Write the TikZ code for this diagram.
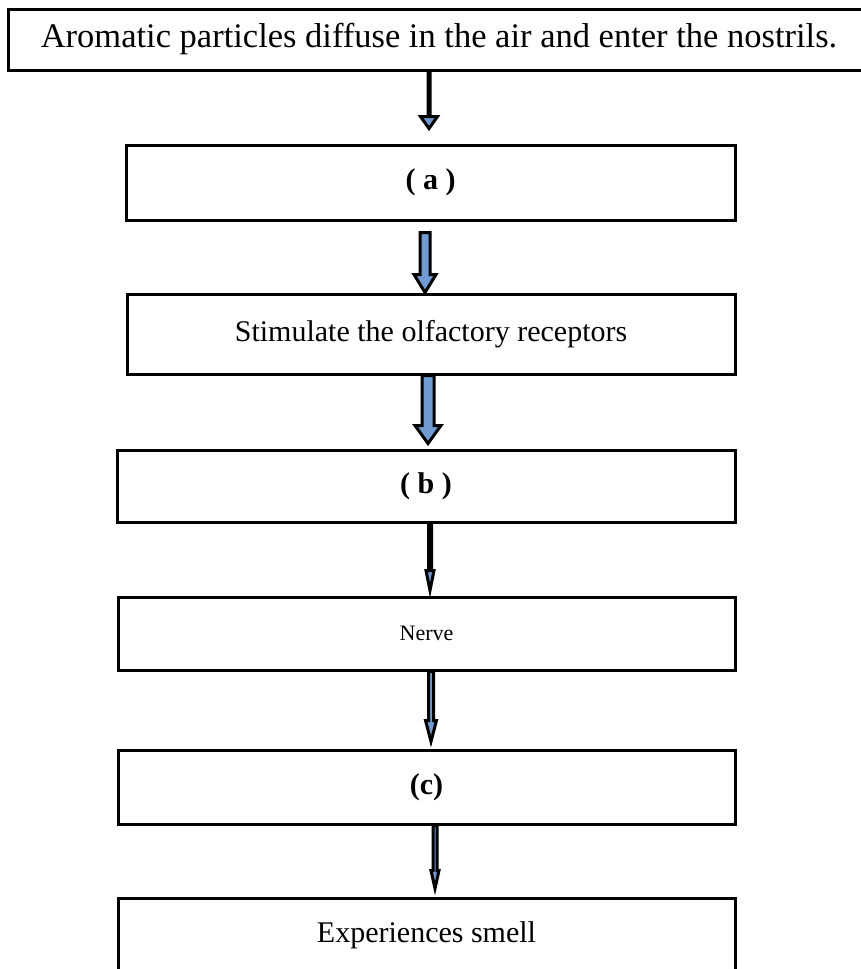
\documentclass[tikz,border=0pt]{standalone}
\usepackage{fontspec}
\setmainfont{Liberation Serif}
\usetikzlibrary{calc}

\definecolor{arrowblue}{RGB}{112,155,210}

\tikzset{
  box/.style={draw, rectangle, line width=3pt, inner sep=0pt, font=\fontsize{30}{36}\selectfont},
  arrowbody/.style={draw=black, fill=arrowblue, line width=3pt, line join=miter},
}

% block arrow: from, to, x, start gap, end gap, stem half, head half, head length
\newcommand{\flowarrow}[8]{%
  \draw[arrowbody] let \p1=(#1), \p2=(#2), \p3=(#3,0) in
    (\x3-#6pt,\y1-#4pt) -- (\x3-#6pt,\y2+#5pt+#8pt) -- (\x3-#7pt,\y2+#5pt+#8pt)
    -- (\x3,\y2+#5pt) -- (\x3+#7pt,\y2+#5pt+#8pt) -- (\x3+#6pt,\y2+#5pt+#8pt)
    -- (\x3+#6pt,\y1-#4pt) -- cycle;}

\begin{document}
\begin{tikzpicture}[x=1pt,y=-1pt]
    \useasboundingbox (0,0) rectangle (861,969);
    \clip (0,0) rectangle (861,969);

    % Boxes of the flow chart
    \node[box, minimum width=862pt, minimum height=61pt, font=\fontsize{34.5}{40}\selectfont]
        (air) at (439,39.5) {Aromatic particles diffuse in the air and enter the nostrils.};
    \node[box, minimum width=609pt, minimum height=75pt] (a) at (430.5,182.5) {\textbf{( a )}};
    \node[box, minimum width=608pt, minimum height=80pt] (stim) at (431,334) {Stimulate the olfactory receptors};
    \node[box, minimum width=618pt, minimum height=72pt] (b) at (426,486) {\textbf{( b )}};
    \node[box, minimum width=617pt, minimum height=73pt, font=\fontsize{22}{26}\selectfont] (nerve) at (426.5,633.5) {Nerve};
    \node[box, minimum width=617pt, minimum height=74pt] (c) at (426.5,787) {\textbf{(c)}};
    \node[box, minimum width=617pt, minimum height=74pt] (smell) at (426.5,935) {Experiences smell};

    % Arrows between the boxes
    \flowarrow{air.south}{a.north}{429}{0}{15}{1}{8.5}{12}
    \flowarrow{a.south}{stim.north}{425}{11}{0}{5}{11}{18}
    \flowarrow{stim.south}{b.north}{428}{0}{5}{6}{13}{18}
    \flowarrow{b.south}{nerve.north}{430}{0}{5}{1.5}{4}{20}
    \flowarrow{nerve.south}{c.north}{431}{0}{7}{2.5}{5.5}{21}
    \flowarrow{c.south}{smell.north}{435}{0}{8}{2}{4}{18}

\end{tikzpicture}
\end{document}
